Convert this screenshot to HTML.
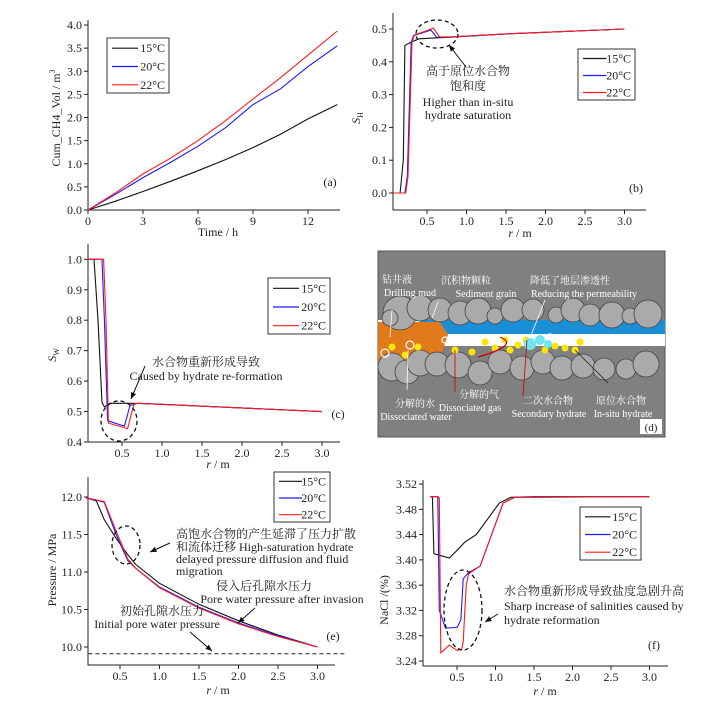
<!DOCTYPE html>
<html><head><meta charset="utf-8"><style>
body{margin:0;background:#fff}
svg{display:block;font-family:"Liberation Serif","Noto Serif CJK SC","Noto Sans CJK SC",serif}
text{fill:#222}
</style></head><body>
<svg id="fig" width="718" height="702" viewBox="0 0 718 702" xmlns="http://www.w3.org/2000/svg">
<rect width="718" height="702" fill="#fff"/>
<g id="illus">
<rect x="378" y="251" width="287" height="186" fill="#808080" stroke="#555"/>
<rect x="378" y="320" width="287" height="26" fill="#fff"/>
<rect x="420" y="320" width="245" height="14" fill="#1b8fd6"/>
<path d="M378 322 L440 322 L448 335 L440 358 L378 362 Z" fill="#e07a1a"/>
<g fill="#aaa" stroke="#444" stroke-width="0.8" id="grains"></g>
<g fill="#ffe600" id="gas"></g>
<g fill="#6ee6f0"><circle cx="530" cy="344" r="6"/><circle cx="540" cy="340" r="5"/><circle cx="548" cy="344" r="4"/></g>
<g fill="none" stroke="#fff" stroke-width="1.2"><circle cx="385" cy="353" r="4"/><circle cx="410" cy="345" r="4"/><circle cx="445" cy="340" r="3"/><circle cx="465" cy="340" r="3"/><circle cx="475" cy="340" r="3"/><circle cx="550" cy="337" r="3"/><circle cx="558" cy="340" r="3"/></g>
<path d="M478 357 Q520 345 500 337" fill="none" stroke="#c00" stroke-width="1.2"/>
<g stroke="#fff" stroke-width="0.8"><line x1="392" y1="310" x2="390" y2="337"/><line x1="438" y1="302" x2="432" y2="318"/><line x1="545" y1="300" x2="530" y2="338"/><line x1="408" y1="350" x2="407" y2="390"/></g>
<g stroke="#c00" stroke-width="0.8"><line x1="455" y1="350" x2="455" y2="392"/><line x1="527" y1="340" x2="523" y2="396"/></g>
<line x1="575" y1="350" x2="608" y2="383" stroke="#222" stroke-width="0.8"/>
<g font-size="10">
<text x="397" y="283" text-anchor="middle" style="fill:#fff">钻井液</text>
<text x="410" y="296" text-anchor="middle" style="fill:#fff">Drilling mud</text>
<text x="466" y="284" text-anchor="middle" style="fill:#fff">沉积物颗粒</text>
<text x="486" y="297" text-anchor="middle" style="fill:#fff">Sediment grain</text>
<text x="570" y="284" text-anchor="middle" style="fill:#fff">降低了地层渗透性</text>
<text x="584" y="297" text-anchor="middle" style="fill:#fff">Reducing the permeability</text>
<text x="415" y="407" text-anchor="middle" style="fill:#fff">分解的水</text>
<text x="416" y="420" text-anchor="middle" style="fill:#fff">Dissociated water</text>
<text x="479" y="398" text-anchor="middle" style="fill:#fff">分解的气</text>
<text x="470" y="411" text-anchor="middle" style="fill:#fff">Dissociated gas</text>
<text x="548" y="404" text-anchor="middle" style="fill:#fff">二次水合物</text>
<text x="549" y="417" text-anchor="middle" style="fill:#fff">Secondary hydrate</text>
<text x="621" y="404" text-anchor="middle" style="fill:#fff">原位水合物</text>
<text x="623" y="417" text-anchor="middle" style="fill:#fff">In-situ hydrate</text>
</g>
<rect x="640" y="419" width="22" height="15" fill="#fff"/>
<text x="651" y="431" font-size="11" text-anchor="middle">(d)</text>
</g>
<g id="charts"></g>
</svg>
<script>
// ---- data ----
const tA = [0,1.5,3,4.5,6,7.5,9,10.5,12,13.6];
const a15 = [0,0.19,0.4,0.62,0.85,1.09,1.35,1.64,1.97,2.28];
const a20 = [0,0.34,0.7,1.03,1.38,1.78,2.28,2.62,3.1,3.55];
const a22 = [0,0.37,0.78,1.12,1.5,1.93,2.4,2.86,3.35,3.87];
const rB15 = [0.07,0.16,0.2,0.22,0.3,0.4,0.6,0.8,1.5,3];
const b15 = [0,0,0.1,0.45,0.46,0.47,0.473,0.475,0.485,0.5];
const rB20 = [0.07,0.22,0.25,0.3,0.33,0.5,0.55,0.62,0.8,1.5,3];
const b20 = [0,0,0.05,0.46,0.48,0.493,0.497,0.475,0.476,0.485,0.5];
const rB22 = [0.07,0.23,0.26,0.31,0.34,0.5,0.58,0.66,0.8,1.5,3];
const b22 = [0,0,0.05,0.46,0.482,0.495,0.503,0.476,0.476,0.485,0.5];
const rC15 = [0.07,0.15,0.2,0.25,0.28,0.35,0.6,0.8,3];
const c15 = [1,1,0.8,0.53,0.515,0.527,0.527,0.526,0.5];
const rC20 = [0.07,0.25,0.28,0.32,0.53,0.6,0.7,3];
const c20 = [1,1,0.8,0.47,0.452,0.52,0.527,0.5];
const rC22 = [0.07,0.27,0.3,0.33,0.57,0.65,0.7,3];
const c22 = [1,1,0.8,0.462,0.444,0.525,0.527,0.5];
const rE = [0.07,0.2,0.3,0.45,0.6,0.7,1,1.5,2,2.5,3];
const e15 = [11.99,11.95,11.7,11.45,11.23,11.1,10.85,10.57,10.35,10.16,10];
const e20 = [11.99,11.96,11.93,11.5,11.15,11.05,10.8,10.53,10.32,10.15,10];
const e22 = [11.99,11.96,11.94,11.55,11.17,11.05,10.79,10.52,10.31,10.14,10];
const eInit = 9.91;
const rF15 = [0.15,0.18,0.2,0.25,0.4,0.5,0.6,0.75,0.9,1.05,1.2,1.5,3];
const f15 = [3.5,3.5,3.41,3.408,3.403,3.415,3.428,3.44,3.465,3.49,3.499,3.5,3.5];
const rF20 = [0.15,0.25,0.27,0.3,0.35,0.5,0.55,0.58,0.65,0.8,0.95,1.1,1.25,3];
const f20 = [3.5,3.5,3.32,3.31,3.292,3.293,3.305,3.37,3.38,3.39,3.44,3.49,3.499,3.5];
const rF22 = [0.15,0.25,0.27,0.29,0.4,0.5,0.56,0.58,0.62,0.65,0.8,0.95,1.1,1.25,3];
const f22 = [3.5,3.5,3.498,3.253,3.265,3.257,3.258,3.27,3.36,3.378,3.39,3.44,3.49,3.499,3.5];
const legendLabels = ["15°C","20°C","22°C"];
const colors = ["#111","#1a1aff","#ff1a1a"];

const NS="http://www.w3.org/2000/svg";
const root=document.getElementById('charts');
function mk(tag,attrs,parent,txt){const e=document.createElementNS(NS,tag);for(const k in attrs)e.setAttribute(k,attrs[k]);if(txt!==undefined)e.textContent=txt;(parent||root).appendChild(e);return e;}

function panel(p){
  const g=mk('g',{});
  
  
  const X=v=>p.x0+(v-p.d0)*p.kx, Y=v=>p.yb-(v-p.r0)*p.ky;
  const ax=mk('path',{d:`M${p.L} ${p.T} L${p.L} ${p.B} L${p.R} ${p.B}`,fill:'none',stroke:'#222','stroke-width':1},g);
  
  
  p.xt.forEach(v=>{const x=X(v);mk('line',{x1:x,y1:p.B,x2:x,y2:p.B+4,stroke:'#222'},g);
    const t=mk('text',{x:x,y:p.B+15,'font-size':12,'text-anchor':'middle'},g,p.xf(v));
    
    });
  p.yt.forEach(v=>{const y=Y(v);mk('line',{x1:p.L-4,y1:y,x2:p.L,y2:y,stroke:'#222'},g);
    const t=mk('text',{x:p.L-6,y:y+4,'font-size':12,'text-anchor':'end'},g,p.yf(v));
    
    });
  p.series.forEach((s,i)=>{
    const d=s[0].map((xv,j)=>(j?'L':'M')+X(xv).toFixed(1)+' '+Y(s[1][j]).toFixed(1)).join(' ');
    const l=mk('path',{d:d,fill:'none',stroke:colors[i],'stroke-width':1.1},g);
    
    
  });
  const lg=mk('g',{},g);
  
  
  const [lx,ly,lw,lh]=p.leg;
  mk('rect',{x:lx,y:ly,width:lw,height:lh,fill:'#fff',stroke:'#333'},lg);
  legendLabels.forEach((lab,i)=>{const yy=ly+lh*(i+0.5)/3+1;
    mk('line',{x1:lx+5,y1:yy,x2:lx+lw*0.5,y2:yy,stroke:colors[i],'stroke-width':1.2},lg);
    const t=mk('text',{x:lx+lw-4,y:yy+4,'font-size':12,'text-anchor':'end'},lg,lab);
    
    });
  const xt=mk('text',{x:p.xl[0],y:p.xl[1],'font-size':12,'text-anchor':'middle'},g);
  xt.innerHTML=p.xlab;
  
  
  const yt=mk('text',{x:0,y:0,'font-size':12,'text-anchor':'middle',transform:`translate(${p.yl[0]},${p.yl[1]}) rotate(-90)`},g);
  yt.innerHTML=p.ylab;
  
  
  const pl=mk('text',{x:p.pl[0],y:p.pl[1],'font-size':12,'text-anchor':'middle'},g,p.plab);
  
  
  return {g,X,Y};
}
const f1=v=>v.toFixed(1), f2=v=>v.toFixed(2), f0=v=>String(v);
const rTicks=[0.5,1,1.5,2,2.5,3];
const rLab='<tspan font-style="italic">r</tspan> / m';

panel({name:'panel-a-cumulative-ch4',L:88,R:340,T:20,B:210,x0:88,d0:0,kx:18.33,yb:210,r0:0,ky:46.25,
  xt:[0,3,6,9,12],xf:f0,yt:[0,0.5,1,1.5,2,2.5,3,3.5,4],yf:f1,
  series:[[tA,a15],[tA,a20],[tA,a22]],leg:[107,38,62,55],
  xlab:'Time / h',xl:[218,236],ylab:'Cum_CH4_Vol / m<tspan dy="-5" font-size="8">3</tspan>',yl:[60,118],plab:'(a)',pl:[330,186]});
panel({name:'panel-b-hydrate-saturation',L:393,R:646,T:13,B:210,x0:387.5,d0:0,kx:79,yb:193,r0:0,ky:328,
  xt:rTicks,xf:f1,yt:[0,0.1,0.2,0.3,0.4,0.5],yf:f1,
  series:[[rB15,b15],[rB20,b20],[rB22,b22]],leg:[578,49,57,51],
  xlab:rLab,xl:[520,237],ylab:'<tspan font-style="italic">S</tspan><tspan dy="3" font-size="8">H</tspan>',yl:[360,118],plab:'(b)',pl:[636,192]});
panel({name:'panel-c-water-saturation',L:88,R:340,T:244,B:442,x0:82,d0:0,kx:80,yb:442,r0:0.4,ky:304.5,
  xt:rTicks,xf:f1,yt:[0.4,0.5,0.6,0.7,0.8,0.9,1.0],yf:f1,
  series:[[rC15,c15],[rC20,c20],[rC22,c22]],leg:[268,278,62,56],
  xlab:rLab,xl:[218,468],ylab:'<tspan font-style="italic">S</tspan><tspan dy="3" font-size="8">W</tspan>',yl:[56,355],plab:'(c)',pl:[338,418]});
const E=panel({name:'panel-e-pressure',L:88,R:335,T:477,B:665,x0:80.5,d0:0,kx:79,yb:647,r0:10,ky:75,
  xt:rTicks,xf:f1,yt:[10,10.5,11,11.5,12],yf:f1,
  series:[[rE,e15],[rE,e20],[rE,e22]],leg:[274,472,56,50],
  xlab:rLab,xl:[218,694],ylab:'Pressure / MPa',yl:[56,570],plab:'(e)',pl:[333,640]});
const dl=mk('line',{x1:E.X(0.1),y1:E.Y(eInit),x2:345,y2:E.Y(eInit),stroke:'#222','stroke-dasharray':'4 3'},E.g);


panel({name:'panel-f-salinity',L:423,R:668,T:480,B:666,x0:418.5,d0:0,kx:77,yb:661,r0:3.24,ky:632,
  xt:rTicks,xf:f1,yt:[3.24,3.28,3.32,3.36,3.4,3.44,3.48,3.52],yf:f2,
  series:[[rF15,f15],[rF20,f20],[rF22,f22]],leg:[580,507,61,53],
  xlab:rLab,xl:[545,695],ylab:'NaCl /(%)',yl:[388,600],plab:'(f)',pl:[654,649]});

// annotations
const ann=mk('g',{'font-size':12});


const A=(x,y,s,anchor)=>mk('text',{x,y,'text-anchor':anchor||'middle'},ann,s);
const D=(cx,cy,rx,ry)=>mk('ellipse',{cx,cy,rx,ry,fill:'none',stroke:'#111','stroke-width':1.3,'stroke-dasharray':'4 3'},ann);
const Arr=(x1,y1,x2,y2)=>{mk('line',{x1,y1,x2,y2,stroke:'#111','stroke-width':1},ann);
  const a=Math.atan2(y2-y1,x2-x1),l=7;
  mk('path',{d:`M${x2} ${y2} L${x2-l*Math.cos(a-0.4)} ${y2-l*Math.sin(a-0.4)} L${x2-l*Math.cos(a+0.4)} ${y2-l*Math.sin(a+0.4)}Z`,fill:'#111'},ann);};
D(437,34,21,14); Arr(466,67,449,45);
A(468,75,'高于原位水合物'); A(468,90,'饱和度'); A(468,106,'Higher than in-situ'); A(468,119,'hydrate saturation');
D(119,421,18,20); Arr(145,366,131,399);
A(206,366,'水合物重新形成导致'); A(206,380,'Caused by hydrate re-formation');
D(126,545,14,19); Arr(170,543,150,552);
A(176,538,'高饱水合物的产生延滞了压力扩散','start'); A(176,551,'和流体迁移  High-saturation hydrate','start');
A(176,563,'delayed pressure diffusion and fluid','start'); A(176,575,'migration','start');
A(264,590,'侵入后孔隙水压力'); A(282,603,'Pore water pressure after invasion'); Arr(255,608,238,623);
A(162,615,'初始孔隙水压力'); A(157,628,'Initial pore water pressure'); Arr(190,632,212,651);
D(463,610,19,40); Arr(498,614,485,622);
A(504,595,'水合物重新形成导致盐度急剧升高','start'); A(504,610,'Sharp increase of salinities caused by','start'); A(504,624,'hydrate reformation','start');

// grains for illustration
const gr=document.getElementById('grains');
const topG=[[400,313,17],[420,308,13],[440,310,12],[460,313,12],[478,311,13],[495,316,8],[513,310,12],[533,310,11],[556,315,8],[573,310,12],[590,315,11],[612,315,13],[630,316,8],[648,314,14],[390,318,8]];
const botG=[[392,367,14],[407,372,12],[420,363,13],[437,364,12],[458,365,13],[480,373,12],[500,362,12],[522,368,12],[543,362,12],[562,368,12],[583,366,12],[604,369,11],[626,369,10],[646,364,13]];
topG.concat(botG).forEach(c=>mk('circle',{cx:c[0],cy:c[1],r:c[2]},gr));
const gs=document.getElementById('gas');
[[392,347],[405,355],[418,347],[455,350],[472,352],[485,342],[495,348],[505,340],[510,350],[518,345],[526,340],[545,350],[555,346],[565,348],[575,350],[580,342]].forEach(c=>mk('circle',{cx:c[0],cy:c[1],r:3.5},gs));
</script>
</body></html>
